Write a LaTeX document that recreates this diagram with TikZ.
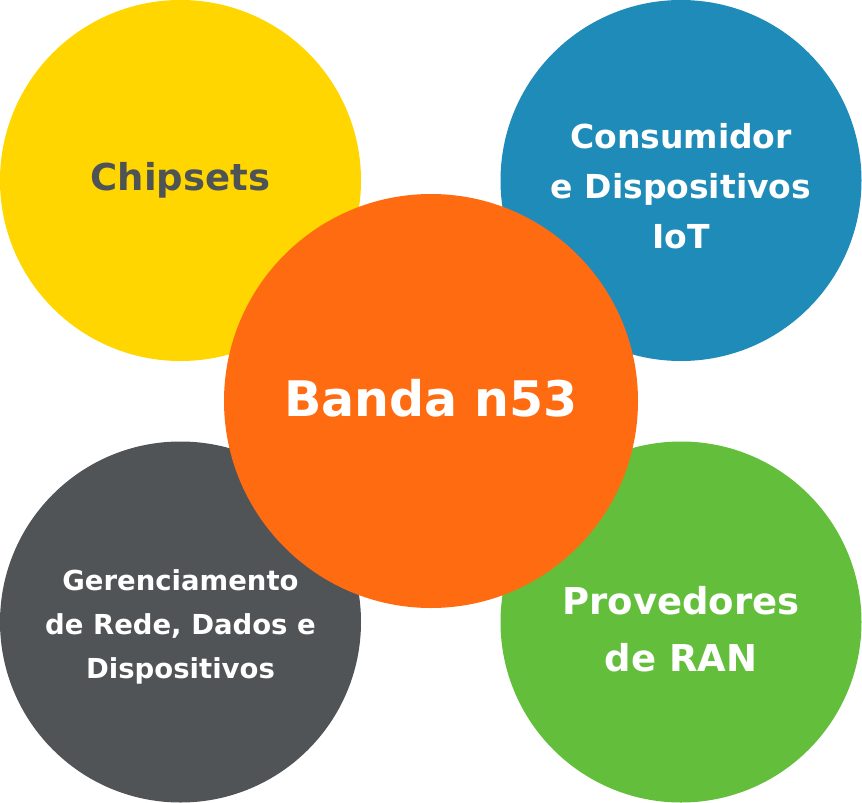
\documentclass[tikz,border=0pt]{standalone}
\usepackage{fontspec}
\setmainfont{DejaVu Sans}
\usetikzlibrary{positioning}
\definecolor{chipyellow}{HTML}{FFD600}
\definecolor{iotblue}{HTML}{1F8BB8}
\definecolor{netgray}{HTML}{505457}
\definecolor{rangreen}{HTML}{63BF3B}
\definecolor{bandorange}{HTML}{FF6B11}
\definecolor{labelgray}{HTML}{4E5356}
\begin{document}
\begin{tikzpicture}[x=1pt,y=-1pt]

  \tikzset{area node/.style={circle, inner sep=0pt, minimum size=361pt}, }
  \tikzset{band node/.style={minimum size=414pt}, }
  \tikzset{area text/.style={align=center, text=white, inner sep=0pt}, }
  \useasboundingbox (0,0) rectangle (862,803);
    \node[area node, fill=chipyellow] (chip) at (180.5,180.5) {};
    \node[area node, fill=iotblue] (iot) at (681,180.5) {};
    \node[area node, fill=netgray] (net) at (180.5,622) {};
    \node[area node, fill=rangreen] (ran) at (681,622) {};
    \node[area node, band node, fill=bandorange] (band) at (431,401) {};

    \node[area text, text=labelgray, font=\fontsize{37}{46}\selectfont\bfseries]
      (chip text) at (chip) {Chipsets};
    \node[area text, yshift=-6pt, font=\fontsize{33}{50}\selectfont\bfseries]
      (iot text) at (iot) {Consumidor\\e Dispositivos\\IoT};
    \node[area text, yshift=-5pt, font=\fontsize{27.5}{44}\selectfont\bfseries]
      (net text) at (net) {Gerenciamento\\de Rede, Dados e\\Dispositivos};
    \node[area text, yshift=-7pt, font=\fontsize{37}{57}\selectfont\bfseries]
      (ran text) at (ran) {Provedores\\de RAN};
    \node[area text, yshift=3pt, font=\fontsize{49}{60}\selectfont\bfseries]
      (band text) at (band) {Banda n53};
%%
\end{tikzpicture}
\end{document}
